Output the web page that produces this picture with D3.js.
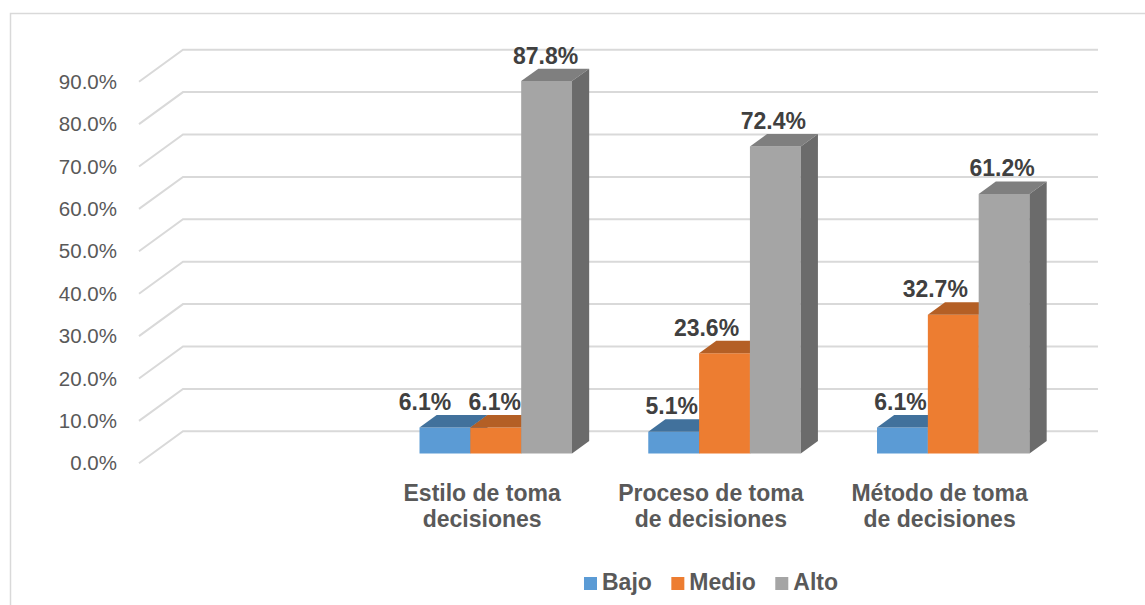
<!DOCTYPE html>
<html>
<head>
<meta charset="utf-8">
<script src="https://cdn.jsdelivr.net/npm/d3@7"></script>
<style>
  body { margin: 0; background: #fff; }
  text { font-family: "Liberation Sans", Arial, sans-serif; }
</style>
</head>
<body>
<svg width="1145" height="605"></svg>
<script>
// data
var categories = ["", "Estilo de toma|decisiones", "Proceso de toma|de decisiones", "Método de toma|de decisiones"];
var series = ["Bajo", "Medio", "Alto"];
var bajo = [null, 0.061, 0.051, 0.061];
var medio = [null, 0.061, 0.236, 0.327];
var alto = [null, 0.878, 0.724, 0.612];
var ticks = [0, 0.1, 0.2, 0.3, 0.4, 0.5, 0.6, 0.7, 0.8, 0.9];

// label nudges (px) so labels don't collide, like the original
var labelNudge = {Bajo: [0, -20, -2, -2], Medio: [0, -1, -18, -18], Alto: [0, -1, -2, -2]};

var colors = {
  Bajo:  {front: "#5b9bd5", top: "#41719c", side: "#3a6690"},
  Medio: {front: "#ed7d31", top: "#b45f25", side: "#a9561f"},
  Alto:  {front: "#a5a5a5", top: "#7f7f7f", side: "#6b6b6b"}
};

var values = {Bajo: bajo, Medio: medio, Alto: alto};

var svg = d3.select("svg");

// oblique 3d projection: depth 0 = front, 1 = back
var depthX = 44, depthY = -32;
var left = 139, right = 1054;
var barDepth0 = 0.31, barDepth1 = 0.70;

var x = d3.scaleBand()
    .domain(categories)
    .range([left, right]);
var xInner = d3.scaleBand()
    .domain(series)
    .range([0, x.bandwidth()])
    .paddingOuter(0.75);
var y = d3.scaleLinear()
    .domain([0, 0.9])
    .range([463.3, 81.7]);

function px(xv, d) { return xv + d * depthX; }
function py(v, d) { return y(v) + d * depthY; }

// frame
svg.append("path")
    .attr("d", "M10.5,605 L10.5,13.5 L1145,13.5")
    .attr("fill", "none")
    .attr("stroke", "#d9d9d9")
    .attr("stroke-width", 1.5);

// gridlines: side wall diagonal + back wall
var grid = svg.append("g")
    .attr("fill", "none")
    .attr("stroke", "#d9d9d9")
    .attr("stroke-width", 2);
grid.selectAll("path")
    .data(ticks)
    .enter()
    .append("path")
    .attr("d", t => "M" + px(left, 0) + "," + py(t, 0) +
        " L" + px(left, 1) + "," + py(t, 1) +
        " L" + px(right, 1) + "," + py(t, 1));

// tick labels
svg.append("g")
    .selectAll("text")
    .data(ticks)
    .enter()
    .append("text")
    .attr("x", 117)
    .attr("y", t => y(t))
    .attr("dy", "0.35em")
    .attr("text-anchor", "end")
    .attr("fill", "#595959")
    .style("font-size", "20.5px")
    .text(t => d3.format(".1%")(t));

// bars
var bars = [];
categories.forEach(function (c, ci) {
  series.forEach(function (s) {
    var v = values[s][ci];
    if (v == null) return;
    bars.push({cat: c, ci: ci, s: s, v: v});
  });
});

var barG = svg.append("g");
bars.forEach(function (b) {
  var x0 = x(b.cat) + xInner(b.s);
  var x1 = x0 + xInner.bandwidth();
  var d0 = barDepth0, d1 = barDepth1;
  var col = colors[b.s];
  var g = barG.append("g");
  // front
  g.append("path")
      .attr("d", "M" + px(x0, d0) + "," + py(0, d0) +
          " L" + px(x0, d0) + "," + py(b.v, d0) +
          " L" + px(x1, d0) + "," + py(b.v, d0) +
          " L" + px(x1, d0) + "," + py(0, d0) + "Z")
      .attr("fill", col.front);
  // top
  g.append("path")
      .attr("d", "M" + px(x0, d0) + "," + py(b.v, d0) +
          " L" + px(x0, d1) + "," + py(b.v, d1) +
          " L" + px(x1, d1) + "," + py(b.v, d1) +
          " L" + px(x1, d0) + "," + py(b.v, d0) + "Z")
      .attr("fill", col.top);
  // side
  g.append("path")
      .attr("d", "M" + px(x1, d0) + "," + py(0, d0) +
          " L" + px(x1, d0) + "," + py(b.v, d0) +
          " L" + px(x1, d1) + "," + py(b.v, d1) +
          " L" + px(x1, d1) + "," + py(0, d1) + "Z")
      .attr("fill", col.side);
});

// data labels
svg.append("g")
    .selectAll("text")
    .data(bars)
    .enter()
    .append("text")
    .attr("x", b => px(x(b.cat) + xInner(b.s) + xInner.bandwidth() / 2, barDepth0) + labelNudge[b.s][b.ci])
    .attr("y", b => py(b.v, barDepth1) - 5)
    .attr("text-anchor", "middle")
    .attr("fill", "#404040")
    .style("font-size", "23px")
    .style("font-weight", "bold")
    .text(b => d3.format(".1%")(b.v));

// category labels
var catG = svg.append("g");
categories.forEach(function (c) {
  if (!c) return;
  var lines = c.split("|");
  var t = catG.append("text")
      .attr("x", x(c) + x.bandwidth() / 2)
      .attr("y", 500.5)
      .attr("text-anchor", "middle")
      .attr("fill", "#595959")
      .style("font-size", "23px")
      .style("font-weight", "bold");
  lines.forEach(function (l, i) {
    t.append("tspan")
        .attr("x", x(c) + x.bandwidth() / 2)
        .attr("dy", i === 0 ? 0 : 26.7)
        .text(l);
  });
});

// legend
var legend = svg.append("g");
var lx = 0;
series.forEach(function (s) {
  var item = legend.append("g").attr("transform", "translate(" + lx + ",0)");
  item.append("rect")
      .attr("x", 0)
      .attr("y", -13)
      .attr("width", 13)
      .attr("height", 13)
      .attr("fill", colors[s].front);
  var t = item.append("text")
      .attr("x", 18)
      .attr("y", 0)
      .attr("fill", "#595959")
      .style("font-size", "23px")
      .style("font-weight", "bold")
      .text(s);
  lx += 18 + t.node().getComputedTextLength() + 19.5;
});
var legendW = lx - 19.5;
legend.attr("transform", "translate(" + (711 - legendW / 2) + ",590)");
</script>
</body>
</html>
